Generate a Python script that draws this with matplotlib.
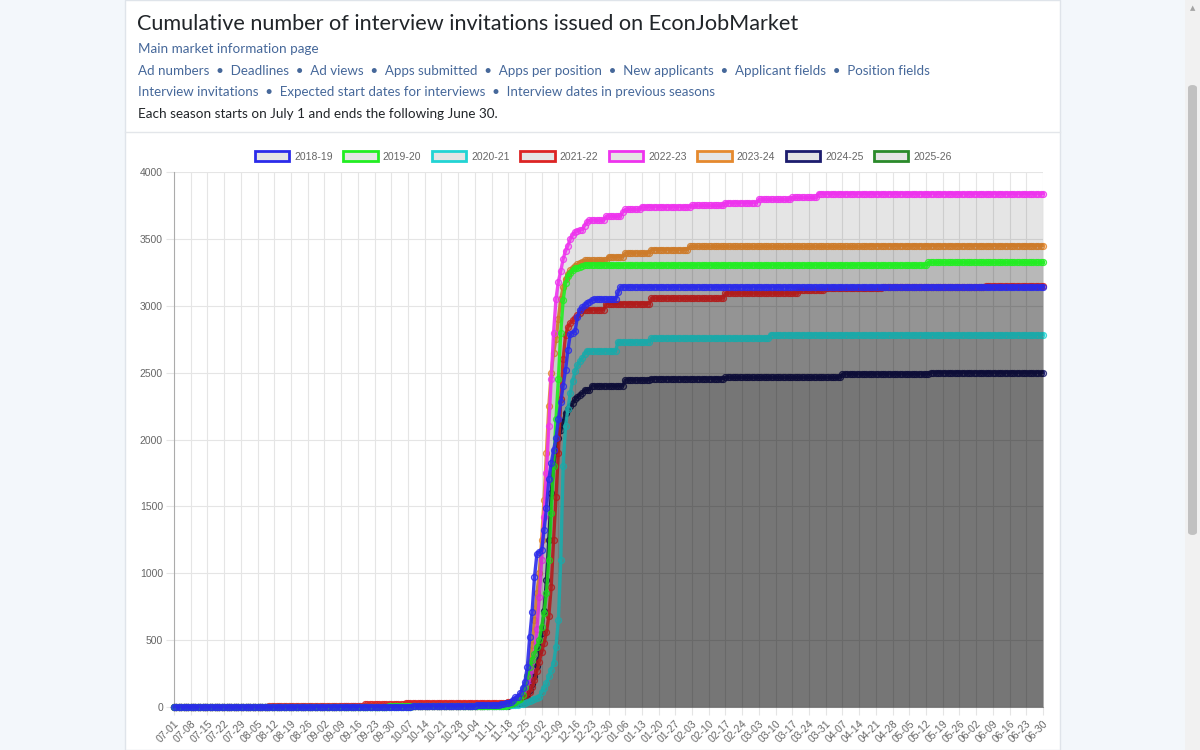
import datetime as dt

import numpy as np
import matplotlib
matplotlib.use('Agg')
import matplotlib.pyplot as plt
from matplotlib.colors import to_rgba
from matplotlib.patches import Patch, Rectangle, FancyBboxPatch
from matplotlib.lines import Line2D

# season days, 07-01 .. 06-30
start = dt.date(2018, 7, 1)
day_labels = [(start + dt.timedelta(days=i)).strftime('%m-%d') for i in range(365)]

seasons = ['2018-19', '2019-20', '2020-21', '2021-22', '2022-23', '2023-24', '2024-25', '2025-26']
colors = ['#2b2bea', '#22ee22', '#22d4d4', '#dd2424', '#ee33ee', '#e5892e', '#1c1c6e', '#2a8a2a']

# cumulative invitations, stored as (number of days, value) runs
runs_1819 = [(60, 0), (40, 3), (27, 8), (10, 15),
             (1, 20), (1, 25), (1, 28), (1, 30), (1, 40), (1, 55), (1, 75),
             (1, 77), (1, 102), (1, 140), (1, 190), (1, 301), (1, 525), (1, 712), (1, 974),
             (1, 1143), (1, 1161), (1, 1173), (1, 1323), (1, 1485), (1, 1702), (1, 1821),
             (1, 1921), (1, 2008),
             (1, 2150), (1, 2280), (1, 2400), (1, 2520), (1, 2668), (1, 2790), (1, 2800),
             (1, 2810), (1, 2917), (1, 2970), (1, 2990), (1, 3004), (1, 3020), (1, 3030),
             (1, 3040),
             (10, 3050), (1, 3100), (178, 3141)]
runs_1920 = [(90, 0), (40, 5), (10, 10),
             (1, 15), (1, 20), (1, 30), (1, 40), (1, 50), (1, 60), (1, 90), (1, 150),
             (1, 230), (1, 300), (1, 350), (1, 400), (1, 450), (1, 500), (1, 600), (1, 700),
             (1, 850), (1, 1100), (1, 1450), (1, 1800), (1, 2150), (1, 2450), (1, 2800),
             (1, 3040), (1, 3170), (1, 3220), (1, 3245), (1, 3265), (1, 3280), (1, 3285),
             (1, 3290), (1, 3295),
             (144, 3305), (49, 3325)]
runs_2021 = [(100, 0), (40, 5), (5, 15),
             (1, 20), (1, 25), (1, 30), (1, 38), (1, 45), (1, 55), (1, 62), (1, 70),
             (1, 77), (1, 110), (1, 140), (1, 178), (1, 230), (1, 280), (1, 330), (1, 450),
             (1, 650), (1, 1100), (1, 1800), (1, 2100),
             (1, 2230), (1, 2350), (1, 2440), (1, 2510), (1, 2555), (1, 2585), (1, 2610),
             (1, 2640),
             (13, 2665), (14, 2730), (50, 2760), (115, 2785)]
runs_2122 = [(40, 0), (40, 10), (17, 20), (43, 33),
             (1, 35), (1, 38), (1, 40), (1, 42), (1, 45), (1, 50), (1, 60), (1, 70),
             (1, 85), (1, 110), (1, 150), (1, 200), (1, 270), (1, 340), (1, 410), (1, 480),
             (1, 560), (1, 680), (1, 900), (1, 1250), (1, 1570), (1, 1900), (1, 2300),
             (1, 2600), (1, 2780), (1, 2840), (1, 2870), (1, 2890), (1, 2910), (1, 2930),
             (1, 2945),
             (10, 2970), (19, 3015), (31, 3057), (31, 3094), (11, 3117), (24, 3129),
             (43, 3141), (25, 3147)]
runs_2223 = [(70, 0), (50, 8), (20, 18),
             (1, 25), (1, 30), (1, 40), (1, 55), (1, 70), (1, 85), (1, 100), (1, 120),
             (1, 150), (1, 200), (1, 280), (1, 400), (1, 580), (1, 820), (1, 1100),
             (1, 1420), (1, 1750), (1, 2100), (1, 2450), (1, 2800), (1, 3050), (1, 3180),
             (1, 3260), (1, 3350), (1, 3410), (1, 3450), (1, 3500), (1, 3530), (1, 3550),
             (1, 3560), (1, 3565), (1, 3570), (1, 3600), (1, 3625),
             (7, 3640), (7, 3670), (1, 3700), (7, 3720), (21, 3740), (14, 3750),
             (14, 3770), (14, 3795), (11, 3810), (95, 3838)]
runs_2324 = [(80, 0), (50, 10), (10, 25),
             (1, 35), (1, 40), (1, 45), (1, 55), (1, 65), (1, 80), (1, 110), (1, 160),
             (1, 230), (1, 330), (1, 460), (1, 650), (1, 850), (1, 1000), (1, 1250),
             (1, 1550), (1, 1900), (1, 2250), (1, 2500), (1, 2650), (1, 2750), (1, 2900),
             (1, 3050), (1, 3140), (1, 3200), (1, 3240), (1, 3265), (1, 3285), (1, 3300),
             (1, 3310), (1, 3320), (1, 3328),
             (10, 3340), (7, 3366), (11, 3395), (16, 3420), (74, 3443), (75, 3450)]
runs_2425 = [(90, 0), (50, 5),
             (1, 10), (1, 15), (1, 20), (1, 25), (1, 30), (1, 40), (1, 55), (1, 75),
             (1, 100), (1, 130), (1, 170), (1, 230), (1, 310), (1, 420), (1, 550), (1, 720),
             (1, 950), (1, 1250), (1, 1600), (1, 1800), (1, 1920), (1, 2010), (1, 2070),
             (1, 2130), (1, 2200), (1, 2230), (1, 2250), (1, 2270), (1, 2300), (1, 2320),
             (1, 2335), (1, 2345),
             (3, 2370), (14, 2400), (11, 2445), (31, 2455), (49, 2465), (37, 2490),
             (48, 2500)]
runs_2526 = [(100, 0), (32, 4)]   # season in progress

all_runs = [runs_1819, runs_1920, runs_2021, runs_2122, runs_2223, runs_2324, runs_2425, runs_2526]


def expand(runs):
    vals = []
    for n, v in runs:
        vals += [v] * n
    return np.array(vals, dtype=float)


W, H = 1200, 750
fig = plt.figure(figsize=(12, 7.5), dpi=100)
fig.patch.set_facecolor('#f3f7fb')


def fx(x):
    return x / W


def fy(y):
    return 1 - y / H


# page card
fig.patches.append(Rectangle((fx(125), 0), fx(1060 - 125), 1, transform=fig.transFigure,
                             facecolor='white', edgecolor='#dfe4ea', lw=1, zorder=-10))
fig.lines.append(Line2D([fx(125), fx(1060)], [fy(132), fy(132)], transform=fig.transFigure,
                        color='#e3e6ea', lw=1, zorder=-5))
# scrollbar
fig.patches.append(Rectangle((fx(1185), 0), fx(15), 1, transform=fig.transFigure,
                             facecolor='#f1f1f1', edgecolor='none', zorder=-10))
fig.patches.append(FancyBboxPatch((fx(1188), fy(535)), fx(9), fy(85) - fy(535),
                                  boxstyle='round,pad=0,rounding_size=0.004',
                                  transform=fig.transFigure, facecolor='#c1c1c1',
                                  edgecolor='none', zorder=-5))
fig.text(fx(1192.5), fy(8), '\u25B2', fontsize=5, color='#a3a3a3', ha='center', va='center')

dark = '#212529'
link = '#46689a'
fig.text(fx(137), fy(23.5), 'Cumulative number of interview invitations issued on EconJobMarket',
         fontsize=15.6, color=dark, family='Lato', va='center')
fig.text(fx(138), fy(49), 'Main market information page', fontsize=9.7, color=link,
         family='Lato', va='center')
fig.text(fx(138), fy(71), 'Ad numbers  \u2022  Deadlines  \u2022  Ad views  \u2022  Apps submitted  \u2022  '
         'Apps per position  \u2022  New applicants  \u2022  Applicant fields  \u2022  Position fields',
         fontsize=9.6, color=link, family='Lato', va='center')
fig.text(fx(138), fy(92), 'Interview invitations  \u2022  Expected start dates for interviews  \u2022  '
         'Interview dates in previous seasons', fontsize=9.6, color=link, family='Lato',
         va='center')
fig.text(fx(138), fy(114), 'Each season starts on July 1 and ends the following June 30.',
         fontsize=9.7, color=dark, family='Lato', va='center')

ax = fig.add_axes([fx(174), 1 - 707 / H, fx(1043 - 174), (707 - 172) / H], zorder=5)
ax.set_facecolor('white')

x = np.arange(365)
n_series = len(seasons)
for i, (name, col, runs) in enumerate(zip(seasons, colors, all_runs)):
    y = expand(runs)
    xs = x[:len(y)]
    z = 10 + (n_series - i) * 2
    ax.fill_between(xs, 0, y, color=(0, 0, 0, 0.1), lw=0, zorder=z - 1)
    ax.plot(xs, y, color=to_rgba(col, 0.9), lw=2.4, zorder=z, clip_on=False,
            marker='o', ms=4.3, mew=0.9, mfc=to_rgba(col, 0.25), mec=to_rgba(col, 0.85))

ax.set_xlim(0, 364)
ax.set_ylim(0, 4000)
ax.set_yticks(np.arange(0, 4001, 500))
ticks = list(range(0, 365, 7))
ax.set_xticks(ticks)
ax.set_xticklabels([day_labels[t] for t in ticks], rotation=45, ha='right',
                   rotation_mode='anchor')
for s in ['top', 'right']:
    ax.spines[s].set_visible(False)
for s in ['left', 'bottom']:
    ax.spines[s].set_color((0, 0, 0, 0.25))
    ax.spines[s].set_linewidth(0.8)
ax.tick_params(axis='both', length=6, color='#e5e5e5', labelcolor='#666666',
               labelsize=7.5, pad=2)
ax.grid(True, color='#e5e5e5', lw=0.8)
ax.set_axisbelow(True)
for lab in ax.get_xticklabels() + ax.get_yticklabels():
    lab.set_family('Liberation Sans')

handles = [Patch(facecolor=(0, 0, 0, 0.1), edgecolor=c, lw=2) for c in colors]
leg = ax.legend(handles, seasons, loc='lower center', bbox_to_anchor=(0.494, 1.005), ncol=8,
                frameon=False, prop={'family': 'Liberation Sans', 'size': 7.5},
                handlelength=3.3, handleheight=1.1, columnspacing=1.0, handletextpad=0.5,
                borderaxespad=0.3)
for t in leg.get_texts():
    t.set_color('#666666')

fig.savefig('out.png', dpi=100, facecolor=fig.get_facecolor())
